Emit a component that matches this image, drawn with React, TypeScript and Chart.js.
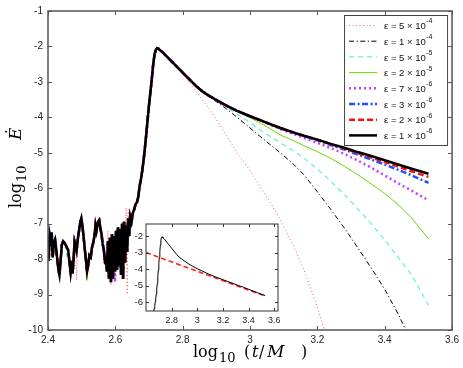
import React, { useEffect, useRef } from 'react';
import { Chart, registerables } from 'chart.js';

Chart.register(...registerables);

// ---------- tick values / labels ----------
const xTickValues = [2.4, 2.6, 2.8, 3.0, 3.2, 3.4, 3.6];
const xTickLabels = ['2.4', '2.6', '2.8', '3', '3.2', '3.4', '3.6'];
const yTickValues = [-10, -9, -8, -7, -6, -5, -4, -3, -2, -1];
const yTickLabels = ['-10', '-9', '-8', '-7', '-6', '-5', '-4', '-3', '-2', '-1'];

const insetXTickValues = [2.8, 3.0, 3.2, 3.4, 3.6];
const insetXTickLabels = ['2.8', '3', '3.2', '3.4', '3.6'];
const insetYTickValues = [-6, -5, -4, -3, -2];
const insetYTickLabels = ['-6', '-5', '-4', '-3', '-2'];

// ---------- legend text ----------
const epsMantissa = ['5', '1', '5', '2', '7', '3', '2', '1'];
const epsExponent = ['-4', '-4', '-5', '-5', '-6', '-6', '-6', '-6'];

// ---------- early (shared) part: noisy ringdown + rise + peak ----------
const earlyX = [
  2.400, 2.402, 2.405, 2.408, 2.411, 2.414, 2.417, 2.421, 2.424, 2.428,
  2.431, 2.434, 2.437, 2.441, 2.445, 2.450, 2.455, 2.460, 2.464, 2.467,
  2.470, 2.473, 2.476, 2.479, 2.482, 2.485, 2.489, 2.493, 2.496, 2.499,
  2.502, 2.505, 2.509, 2.513, 2.516, 2.519, 2.523, 2.527, 2.530, 2.534,
  2.538, 2.541, 2.544, 2.548, 2.552, 2.555, 2.559, 2.562, 2.566, 2.569,
  2.572, 2.575, 2.578, 2.581, 2.584, 2.587, 2.590, 2.593, 2.596, 2.599,
  2.602, 2.605, 2.608, 2.611, 2.614, 2.617, 2.620, 2.623, 2.626, 2.629,
  2.632, 2.635, 2.638, 2.641, 2.644, 2.648, 2.652, 2.656, 2.660, 2.664,
  2.668, 2.672, 2.676, 2.680, 2.684, 2.688, 2.692, 2.696, 2.700, 2.704,
  2.708, 2.712, 2.716, 2.720, 2.724, 2.728, 2.732,
];
const earlyY = [
  -7.35, -8.05, -7.30, -7.45, -7.25, -7.95, -7.55, -7.45, -7.70, -8.05,
  -8.30, -8.45, -8.10, -7.60, -7.50, -7.55, -7.65, -7.75, -8.10, -8.35,
  -8.05, -8.40, -8.00, -7.50, -7.60, -7.75, -7.40, -7.15, -6.95, -6.85,
  -7.05, -7.30, -7.70, -8.05, -8.35, -8.20, -7.90, -7.95, -7.70, -7.55,
  -7.35, -7.05, -7.20, -6.95, -6.90, -7.10, -7.30, -7.55, -7.75, -8.05,
  -8.00, -8.35, -7.50, -8.55, -7.40, -8.65, -7.30, -8.55, -7.35, -8.35,
  -7.20, -8.30, -7.10, -8.20, -7.15, -8.45, -7.00, -8.55, -6.95, -8.10,
  -7.05, -7.80, -6.85, -7.35, -6.80, -6.95, -6.70, -6.60, -6.45, -6.40,
  -6.25, -5.95, -5.75, -5.50, -5.20, -4.85, -4.46, -4.05, -3.65, -3.30,
  -2.95, -2.55, -2.25, -2.10, -2.05, -2.06, -2.10,
];

// per-series deviations in the noisy part: [x, y]
const redDottedEarly = [
  [2.485, -8.60], [2.489, -7.30], [2.513, -8.45], [2.566, -8.10], [2.578, -7.20],
  [2.587, -8.75], [2.620, -6.95], [2.632, -6.55], [2.635, -9.00], [2.638, -6.60],
];
const cyanEarly = [[2.455, -7.90]];
const greenEarly = [[2.516, -8.60], [2.467, -8.45]];
const purpleEarly = [[2.599, -8.65]];

// ---------- late part (after the peak), shared x grid ----------
const tailX = [
  2.74, 2.77, 2.80, 2.84, 2.86, 2.88, 2.90, 2.93, 2.96, 3.00, 3.03, 3.06,
  3.09, 3.13, 3.16, 3.20, 3.24, 3.28, 3.32, 3.36, 3.40, 3.44, 3.48, 3.53,
];
const tailEps5e4 = [
  -2.16, -2.45, -2.78, -3.27, -3.52, -3.78, -4.06, -4.50, -4.98, -5.50, -5.95, -6.40,
  -6.88, -7.65, -8.30, -9.35, -10.60, null, null, null, null, null, null, null,
];
const tailEps1e4 = [
  -2.16, -2.45, -2.74, -3.13, -3.30, -3.43, -3.56, -3.76, -3.99, -4.30, -4.54, -4.77,
  -5.00, -5.33, -5.62, -6.10, -6.60, -7.12, -7.68, -8.25, -8.85, -9.55, -10.35, null,
];
const tailEps5e5 = [
  -2.16, -2.45, -2.74, -3.12, -3.28, -3.41, -3.53, -3.71, -3.90, -4.15, -4.36, -4.54,
  -4.72, -4.95, -5.15, -5.46, -5.80, -6.18, -6.58, -7.00, -7.46, -7.95, -8.45, -9.30,
];
const tailEps2e5 = [
  -2.16, -2.45, -2.74, -3.12, -3.28, -3.40, -3.51, -3.67, -3.82, -4.01, -4.16, -4.32,
  -4.50, -4.66, -4.80, -4.97, -5.16, -5.38, -5.62, -5.88, -6.15, -6.46, -6.84, -7.43,
];
const tailEps7e6 = [
  -2.16, -2.45, -2.74, -3.12, -3.28, -3.40, -3.51, -3.67, -3.81, -3.97, -4.09, -4.21,
  -4.33, -4.47, -4.58, -4.72, -4.87, -5.03, -5.22, -5.42, -5.64, -5.86, -6.07, -6.34,
];
const tailEps3e6 = [
  -2.16, -2.45, -2.74, -3.12, -3.28, -3.40, -3.51, -3.67, -3.81, -3.97, -4.08, -4.19,
  -4.30, -4.43, -4.53, -4.65, -4.78, -4.91, -5.05, -5.19, -5.33, -5.48, -5.64, -5.85,
];
const tailEps2e6 = [
  -2.16, -2.45, -2.74, -3.12, -3.28, -3.40, -3.51, -3.67, -3.81, -3.97, -4.08, -4.19,
  -4.30, -4.43, -4.52, -4.63, -4.76, -4.88, -5.01, -5.13, -5.26, -5.39, -5.52, -5.68,
];
const tailEps1e6 = [
  -2.16, -2.45, -2.74, -3.12, -3.28, -3.40, -3.51, -3.67, -3.81, -3.97, -4.08, -4.19,
  -4.30, -4.43, -4.52, -4.63, -4.75, -4.86, -4.98, -5.09, -5.21, -5.33, -5.45, -5.59,
];

// inset: power-law fit line
const fitX = [2.6, 3.53];
const fitY = [-3.0, -5.62];

// ---------- styles ----------
const FONT_SANS = '"Liberation Sans", Arial, Helvetica, sans-serif';
const FONT_SERIF = '"DejaVu Serif", "Liberation Serif", serif';

type Style = { color: string; width: number; dash: number[] };
const seriesStyles: Style[] = [
  { color: '#ff5a5a', width: 1, dash: [1, 2.5] },
  { color: '#000000', width: 1, dash: [5, 2.5, 1.2, 2.5] },
  { color: '#66eedd', width: 1.2, dash: [5, 4] },
  { color: '#66dd00', width: 1, dash: [] },
  { color: '#c040ff', width: 2.5, dash: [2, 3] },
  { color: '#2050ff', width: 2.5, dash: [6, 2.5, 2, 2.5] },
  { color: '#ff1010', width: 2.5, dash: [6, 3] },
  { color: '#000000', width: 2.5, dash: [] },
];

const tails = [tailEps5e4, tailEps1e4, tailEps5e5, tailEps2e5, tailEps7e6, tailEps3e6, tailEps2e6, tailEps1e6];
const earlyDeviations = [redDottedEarly, [], cyanEarly, greenEarly, purpleEarly, [], [], []];

function seriesPoints(tail: (number | null)[], overrides: number[][]) {
  const pts = earlyX.map((x, i) => ({ x, y: earlyY[i] }));
  overrides.forEach(([ox, oy]) => {
    const p = pts.find((q) => Math.abs(q.x - ox) < 1e-9);
    if (p) p.y = oy;
  });
  tailX.forEach((x, i) => {
    const y = tail[i];
    if (y !== null) pts.push({ x, y });
  });
  return pts;
}

function labelFor(values: number[], labels: string[], v: number) {
  const i = values.findIndex((t) => Math.abs(t - v) < 1e-6);
  return i >= 0 ? labels[i] : '';
}

function line(ctx: CanvasRenderingContext2D, x1: number, y1: number, x2: number, y2: number) {
  ctx.beginPath();
  ctx.moveTo(x1, y1);
  ctx.lineTo(x2, y2);
  ctx.stroke();
}

function drawFrame(chart: any, xt: number[], yt: number[], len: number, boxColor: string, boxWidth: number) {
  const { ctx, chartArea: ca, scales } = chart;
  ctx.save();
  ctx.setLineDash([]);
  ctx.strokeStyle = boxColor;
  ctx.lineWidth = 1;
  xt.forEach((v) => {
    const px = Math.round(scales.x.getPixelForValue(v)) + 0.5;
    line(ctx, px, ca.bottom, px, ca.bottom - len);
    line(ctx, px, ca.top, px, ca.top + len);
  });
  yt.forEach((v) => {
    const py = Math.round(scales.y.getPixelForValue(v)) + 0.5;
    line(ctx, ca.left, py, ca.left + len, py);
    line(ctx, ca.right, py, ca.right - len, py);
  });
  ctx.lineWidth = boxWidth;
  ctx.strokeRect(ca.left, ca.top, ca.right - ca.left, ca.bottom - ca.top);
  ctx.restore();
}

const mainDecor = {
  id: 'mainDecor',
  beforeDraw(chart: any) {
    const { ctx, width, height } = chart;
    ctx.save();
    ctx.fillStyle = '#ffffff';
    ctx.fillRect(0, 0, width, height);
    ctx.restore();
  },
  afterDraw(chart: any) {
    const { ctx, chartArea: ca } = chart;
    drawFrame(chart, xTickValues, yTickValues, 4, '#555555', 1.5);

    // legend
    ctx.save();
    const lw = 103;
    const lh = 130;
    const lx = ca.right - 5 - lw;
    const ly = ca.top + 4;
    ctx.fillStyle = '#ffffff';
    ctx.fillRect(lx, ly, lw, lh);
    ctx.strokeStyle = '#444444';
    ctx.lineWidth = 1;
    ctx.strokeRect(lx + 0.5, ly + 0.5, lw, lh);
    seriesStyles.forEach((s, i) => {
      const yy = ly + 10.5 + i * 15.7;
      ctx.setLineDash(s.dash);
      ctx.strokeStyle = s.color;
      ctx.lineWidth = s.width;
      line(ctx, lx + 5, yy, lx + 33, yy);
      ctx.setLineDash([]);
      ctx.fillStyle = '#111111';
      ctx.textBaseline = 'middle';
      ctx.textAlign = 'left';
      ctx.font = `9.5px ${FONT_SANS}`;
      const base = `\u03b5 = ${epsMantissa[i]} \u00d7 10`;
      ctx.fillText(base, lx + 40, yy + 1);
      const w = ctx.measureText(base).width;
      ctx.font = `7px ${FONT_SANS}`;
      ctx.fillText(epsExponent[i], lx + 40 + w + 0.5, yy - 4);
    });
    ctx.restore();

    // x title: log10 ( t/M )
    ctx.save();
    ctx.fillStyle = '#000000';
    ctx.textBaseline = 'alphabetic';
    ctx.textAlign = 'left';
    const bx = 193;
    const by = 357;
    ctx.font = `16px ${FONT_SERIF}`;
    ctx.fillText('log', bx, by);
    ctx.font = `13px ${FONT_SERIF}`;
    ctx.fillText('10', bx + 26, by + 5);
    ctx.font = `16px ${FONT_SERIF}`;
    ctx.fillText('(', bx + 51, by);
    ctx.font = `italic 16px ${FONT_SERIF}`;
    ctx.fillText('t', bx + 59, by);
    ctx.font = `16px ${FONT_SERIF}`;
    ctx.fillText('/', bx + 66, by);
    ctx.font = `italic 17px ${FONT_SERIF}`;
    ctx.fillText('M', bx + 74, by);
    ctx.font = `16px ${FONT_SERIF}`;
    ctx.fillText(')', bx + 108, by);
    ctx.restore();

    // y title: log10 E-dot (rotated)
    ctx.save();
    ctx.translate(21, 208);
    ctx.rotate(-Math.PI / 2);
    ctx.fillStyle = '#000000';
    ctx.textBaseline = 'alphabetic';
    ctx.textAlign = 'left';
    ctx.font = `16px ${FONT_SERIF}`;
    ctx.fillText('log', 0, 0);
    ctx.font = `13px ${FONT_SERIF}`;
    ctx.fillText('10', 26, 5);
    ctx.font = `italic 17px ${FONT_SERIF}`;
    ctx.fillText('\u0116', 68, 0);
    ctx.restore();
  },
};

const insetDecor = {
  id: 'insetDecor',
  beforeDatasetsDraw(chart: any) {
    const { ctx, chartArea: ca } = chart;
    ctx.save();
    ctx.fillStyle = '#ffffff';
    ctx.fillRect(ca.left, ca.top, ca.right - ca.left, ca.bottom - ca.top);
    ctx.restore();
  },
  afterDraw(chart: any) {
    drawFrame(chart, insetXTickValues, insetYTickValues, 3, '#333333', 1);
  },
};

export default function App() {
  const mainRef = useRef<HTMLCanvasElement | null>(null);
  const insetRef = useRef<HTMLCanvasElement | null>(null);

  useEffect(() => {
    if (!mainRef.current || !insetRef.current) return;

    const datasets = seriesStyles
      .map((s, i) => ({
        label: `eps ${epsMantissa[i]}e${epsExponent[i]}`,
        data: seriesPoints(tails[i], earlyDeviations[i]),
        borderColor: s.color,
        borderWidth: s.width,
        borderDash: s.dash,
        pointRadius: 0,
        tension: 0,
        fill: false,
      }))
      .reverse();

    const main = new Chart(mainRef.current, {
      type: 'line',
      data: { datasets },
      options: {
        animation: false,
        responsive: false,
        maintainAspectRatio: false,
        layout: { padding: { top: 10, right: 10, left: 0, bottom: 0 } },
        plugins: { legend: { display: false }, tooltip: { enabled: false } },
        elements: { point: { radius: 0 }, line: { tension: 0 } },
        scales: {
          x: {
            type: 'linear',
            min: 2.4,
            max: 3.6,
            afterBuildTicks: (s: any) => {
              s.ticks = xTickValues.map((v) => ({ value: v }));
            },
            afterFit: (s: any) => {
              s.height = 38;
            },
            grid: { display: false, drawTicks: false },
            border: { display: false },
            ticks: {
              padding: 4,
              autoSkip: false,
              maxRotation: 0,
              color: '#222222',
              font: { family: FONT_SANS, size: 10 },
              callback: (v: any) => labelFor(xTickValues, xTickLabels, Number(v)),
            },
          },
          y: {
            type: 'linear',
            min: -10,
            max: -1,
            afterBuildTicks: (s: any) => {
              s.ticks = yTickValues.map((v) => ({ value: v }));
            },
            afterFit: (s: any) => {
              s.width = 48;
            },
            grid: { display: false, drawTicks: false },
            border: { display: false },
            ticks: {
              padding: 5,
              autoSkip: false,
              color: '#222222',
              font: { family: FONT_SANS, size: 10 },
              callback: (v: any) => labelFor(yTickValues, yTickLabels, Number(v)),
            },
          },
        },
      },
      plugins: [mainDecor],
    } as any);

    const insetSets = [
      {
        label: 'eps 1e-6',
        data: seriesPoints(tailEps1e6, []),
        borderColor: '#000000',
        borderWidth: 1,
        borderDash: [],
        pointRadius: 0,
        tension: 0,
        fill: false,
      },
      {
        label: 'fit',
        data: fitX.map((x, i) => ({ x, y: fitY[i] })),
        borderColor: '#ff2020',
        borderWidth: 1.5,
        borderDash: [5, 3],
        pointRadius: 0,
        tension: 0,
        fill: false,
      },
    ];

    const inset = new Chart(insetRef.current, {
      type: 'line',
      data: { datasets: insetSets },
      options: {
        animation: false,
        responsive: false,
        maintainAspectRatio: false,
        layout: { padding: { top: 12, right: 12, left: 0, bottom: 0 } },
        plugins: { legend: { display: false }, tooltip: { enabled: false } },
        elements: { point: { radius: 0 }, line: { tension: 0 } },
        scales: {
          x: {
            type: 'linear',
            min: 2.6,
            max: 3.63,
            afterBuildTicks: (s: any) => {
              s.ticks = insetXTickValues.map((v) => ({ value: v }));
            },
            afterFit: (s: any) => {
              s.height = 26;
            },
            grid: { display: false, drawTicks: false },
            border: { display: false },
            ticks: {
              padding: 4,
              autoSkip: false,
              maxRotation: 0,
              color: '#222222',
              font: { family: FONT_SANS, size: 9 },
              callback: (v: any) => labelFor(insetXTickValues, insetXTickLabels, Number(v)),
            },
          },
          y: {
            type: 'linear',
            min: -6.52,
            max: -1.28,
            afterBuildTicks: (s: any) => {
              s.ticks = insetYTickValues.map((v) => ({ value: v }));
            },
            afterFit: (s: any) => {
              s.width = 46;
            },
            grid: { display: false, drawTicks: false },
            border: { display: false },
            ticks: {
              padding: 3,
              autoSkip: false,
              color: '#222222',
              font: { family: FONT_SANS, size: 9.5 },
              callback: (v: any) => labelFor(insetYTickValues, insetYTickLabels, Number(v)),
            },
          },
        },
      },
      plugins: [insetDecor],
    } as any);

    return () => {
      main.destroy();
      inset.destroy();
    };
  }, []);

  return (
    <div style={{ position: 'absolute', left: 0, top: 0, width: 463, height: 368, background: '#ffffff' }}>
      <canvas
        ref={mainRef}
        width={463}
        height={368}
        style={{ position: 'absolute', left: 0, top: 0, width: 463, height: 368 }}
      />
      <canvas
        ref={insetRef}
        width={190}
        height={125}
        style={{ position: 'absolute', left: 100, top: 212, width: 190, height: 125 }}
      />
    </div>
  );
}
